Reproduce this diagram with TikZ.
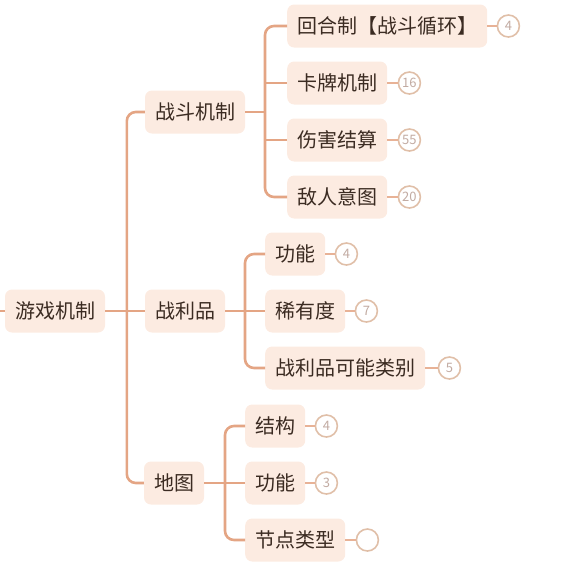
\documentclass[tikz,border=0pt]{standalone}
\usepackage{fontspec}
\newfontfamily\cjk{Noto Sans CJK SC}
\usetikzlibrary{calc}
\definecolor{linec}{HTML}{E4A584}
\definecolor{boxf}{HTML}{FCEBE1}
\definecolor{txtc}{HTML}{3B2B22}
\definecolor{badgeb}{HTML}{E0BFA8}
\definecolor{badget}{HTML}{C2ABA2}
\tikzset{
  item/.style={fill=boxf, rounded corners=7pt, text=txtc, font=\cjk\fontsize{20}{20}\selectfont,
    minimum height=43pt, inner xsep=10pt, inner ysep=0pt},
  badge/.style={circle, draw=badgeb, line width=1.6pt, fill=white, text=badget,
    font=\cjk\fontsize{13}{13}\selectfont, minimum size=22pt, inner sep=0pt},
  conn/.style={draw=linec, line width=2.6pt},
  bconn/.style={draw=linec!85!white, line width=2.4pt}
}
\begin{document}
\begin{tikzpicture}[x=1pt,y=-1pt]
\useasboundingbox (0,0) rectangle (570,566);
% root
\node[item] (root) at (55,311) {游戏机制};
% level 1
\node[item] (zd) at (195,112) {战斗机制};
\node[item] (zlp) at (185,311) {战利品};
\node[item] (dt) at (174,483) {地图};
% level 2 under 战斗机制
\node[item, anchor=west] (a1) at (287,26) {回合制【战斗循环】};
\node[item, anchor=west] (a2) at (287,83) {卡牌机制};
\node[item, anchor=west] (a3) at (287,140) {伤害结算};
\node[item, anchor=west] (a4) at (287,197) {敌人意图};
% under 战利品
\node[item, anchor=west] (b1) at (265,254) {功能};
\node[item, anchor=west] (b2) at (265,311) {稀有度};
\node[item, anchor=west] (b3) at (265,368) {战利品可能类别};
% under 地图
\node[item, anchor=west] (c1) at (245,426) {结构};
\node[item, anchor=west] (c2) at (245,483) {功能};
\node[item, anchor=west] (c3) at (245,540) {节点类型};
% badges
\node[badge] (na1) at ($(a1.east)+(21,0)$) {4};
\node[badge] (na2) at ($(a2.east)+(22,0)$) {16};
\node[badge] (na3) at ($(a3.east)+(22,0)$) {55};
\node[badge] (na4) at ($(a4.east)+(22,0)$) {20};
\node[badge] (nb1) at ($(b1.east)+(21,0)$) {4};
\node[badge] (nb2) at ($(b2.east)+(21,0)$) {7};
\node[badge] (nb3) at ($(b3.east)+(24,0)$) {5};
\node[badge] (nc1) at ($(c1.east)+(21,0)$) {4};
\node[badge] (nc2) at ($(c2.east)+(21,0)$) {3};
\node[badge] (nc3) at ($(c3.east)+(22,0)$) {};
% badge connectors
\foreach \s/\t in {a1/na1,a2/na2,a3/na3,a4/na4,b1/nb1,b2/nb2,b3/nb3,c1/nc1,c2/nc2,c3/nc3}
  \draw[bconn] (\s.east) -- (\t.west);
% root connectors
\coordinate (rl) at ($(root.west)+(-6,0)$);
\draw[conn] (rl) -- (root.west);
\draw[conn] (root.east) -- (zlp.west);
\draw[conn, rounded corners=9pt] (zd.west) -- ++(-18,0) |- (dt.west);
% 战斗机制 children
\coordinate (t1) at ($(zd.east)+(20,0)$);
\draw[conn] (zd.east) -- (t1);
\draw[conn, rounded corners=9pt] (a1.west) -- ++(-22,0) |- (a4.west);
\draw[conn] (t1 |- a2.west) -- (a2.west);
\draw[conn] (t1 |- a3.west) -- (a3.west);
% 战利品 children
\draw[conn] (zlp.east) -- (b2.west);
\draw[conn, rounded corners=9pt] (b1.west) -- ++(-20,0) |- (b3.west);
% 地图 children
\draw[conn] (dt.east) -- (c2.west);
\draw[conn, rounded corners=9pt] (c1.west) -- ++(-20,0) |- (c3.west);
\end{tikzpicture}
\end{document}
